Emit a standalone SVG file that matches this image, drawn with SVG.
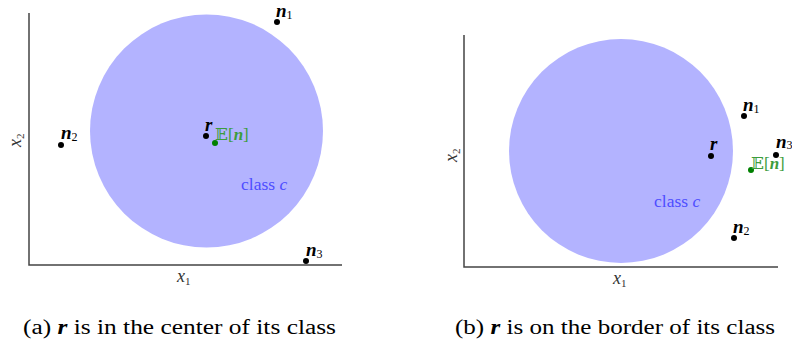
<svg xmlns="http://www.w3.org/2000/svg" width="792" height="345" viewBox="0 0 792 345">
<style>
text{font-family:"Liberation Serif","DejaVu Serif",serif;}
.axis{stroke:#444;stroke-width:1.5;fill:none;}
.cls{fill:#b3b3ff;}
.pt{fill:#000;}
.gpt{fill:#008000;}
.lbl{font-size:19px;font-weight:bold;font-style:italic;fill:#000;}
.sub{font-size:12px;font-weight:normal;font-style:normal;}
.ax{font-size:18px;font-style:italic;fill:#333;}
.axs{font-size:11px;font-style:normal;}
.cc{font-size:17.5px;fill:#4d4dff;}
.en{font-size:17px;fill:#3c9c3c;}
.cap{font-size:20px;fill:#000;}
</style>
<g id="panel-a">
  <g id="axes-a">
    <path class="axis" d="M29,13 V265 H342"/>
    <text class="ax" x="177" y="282">x<tspan class="axs" dy="3">1</tspan></text>
    <text class="ax" transform="translate(21,147) rotate(-90)">x<tspan class="axs" dy="3">2</tspan></text>
  </g>
  <g id="class-a">
    <circle class="cls" cx="206.5" cy="131" r="116.5"/>
    <text class="cc" x="241" y="190">class <tspan font-style="italic">c</tspan></text>
  </g>
  <g id="n1-a"><circle class="pt" cx="277" cy="22" r="3"/><text class="lbl" x="276" y="17">n<tspan class="sub" dy="2">1</tspan></text></g>
  <g id="n2-a"><circle class="pt" cx="61" cy="145" r="3"/><text class="lbl" x="61" y="139">n<tspan class="sub" dy="2">2</tspan></text></g>
  <g id="n3-a"><circle class="pt" cx="306" cy="261" r="3"/><text class="lbl" x="306" y="256">n<tspan class="sub" dy="2">3</tspan></text></g>
  <g id="r-a"><circle class="pt" cx="206" cy="136" r="3"/><text class="lbl" x="205" y="131">r</text></g>
  <g id="en-a"><circle class="gpt" cx="215" cy="143" r="3"/><text class="en" x="215" y="140">𝔼[<tspan font-weight="bold" font-style="italic">n</tspan>]</text></g>
  <text class="cap" x="23" y="334" textLength="313" lengthAdjust="spacingAndGlyphs">(a) <tspan font-weight="bold" font-style="italic">r</tspan> is in the center of its class</text>
</g>
<g id="panel-b">
  <g id="axes-b">
    <path class="axis" d="M464,35 V267 H778"/>
    <text class="ax" x="613" y="284">x<tspan class="axs" dy="3">1</tspan></text>
    <text class="ax" transform="translate(457,162) rotate(-90)">x<tspan class="axs" dy="3">2</tspan></text>
  </g>
  <g id="class-b">
    <circle class="cls" cx="621" cy="151" r="112"/>
    <text class="cc" x="654" y="207">class <tspan font-style="italic">c</tspan></text>
  </g>
  <g id="n1-b"><circle class="pt" cx="744" cy="116" r="3"/><text class="lbl" x="743" y="111">n<tspan class="sub" dy="2">1</tspan></text></g>
  <g id="n2-b"><circle class="pt" cx="734" cy="238" r="3"/><text class="lbl" x="733" y="233">n<tspan class="sub" dy="2">2</tspan></text></g>
  <g id="n3-b"><circle class="pt" cx="776" cy="155" r="3"/><text class="lbl" x="776" y="148">n<tspan class="sub" dy="1">3</tspan></text></g>
  <g id="r-b"><circle class="pt" cx="711" cy="156" r="3"/><text class="lbl" x="710" y="150">r</text></g>
  <g id="en-b"><circle class="gpt" cx="751" cy="170" r="3"/><text class="en" x="751" y="169">𝔼[<tspan font-weight="bold" font-style="italic">n</tspan>]</text></g>
  <text class="cap" x="455" y="334" textLength="320" lengthAdjust="spacingAndGlyphs">(b) <tspan font-weight="bold" font-style="italic">r</tspan> is on the border of its class</text>
</g>
</svg>
